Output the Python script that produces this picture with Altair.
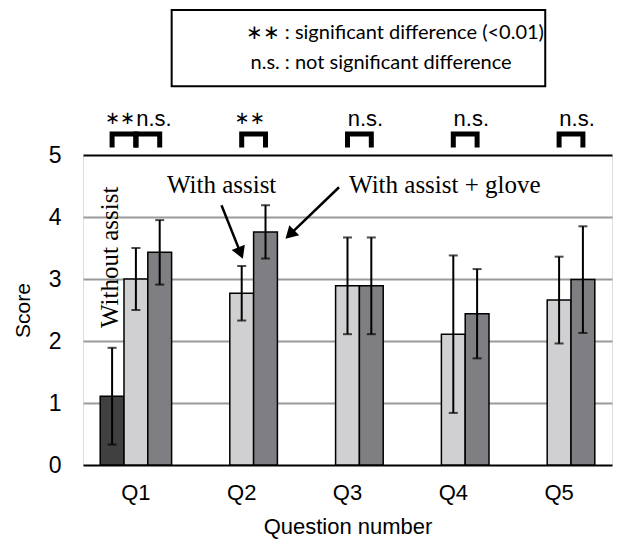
import altair as alt
import pandas as pd

questions = ["Q1", "Q2", "Q3", "Q4", "Q5"]
conditions = ["Without assist", "With assist", "With assist + glove"]
colors = ["#404040", "#d0d0d2", "#7f7f83"]

without_mean = [1.11, None, None, None, None]
without_err = [0.78, None, None, None, None]
assist_mean = [3.00, 2.77, 2.89, 2.11, 2.66]
assist_err = [0.50, 0.44, 0.78, 1.27, 0.70]
glove_mean = [3.43, 3.76, 2.89, 2.44, 2.99]
glove_err = [0.52, 0.43, 0.78, 0.72, 0.86]

# significance brackets: question, left condition, right condition, label
br_question = ["Q1", "Q1", "Q2", "Q3", "Q4", "Q5"]
br_left = ["Without assist", "With assist", "With assist", "With assist", "With assist", "With assist"]
br_right = ["With assist", "With assist + glove", "With assist + glove", "With assist + glove",
            "With assist + glove", "With assist + glove"]
br_label = ["∗∗", "n.s.", "∗∗", "n.s.", "n.s.", "n.s."]
br_low, br_high, br_text = 5.12, 5.34, 5.58

legend_symbols = ["∗∗", "n.s."]
legend_texts = [": significant difference (<0.01)", ": not significant difference"]

# ---- tables ----
rows = []
for means, errs, cond in [(without_mean, without_err, conditions[0]),
                          (assist_mean, assist_err, conditions[1]),
                          (glove_mean, glove_err, conditions[2])]:
    for q, m, e in zip(questions, means, errs):
        if m is not None:
            rows.append({"q": q, "cond": cond, "mean": m, "lo": m - e, "hi": m + e})
bars_df = pd.DataFrame(rows)

br_rows = []
lab_rows = []
for i, (q, a, b, lab) in enumerate(zip(br_question, br_left, br_right, br_label)):
    for o, (c, yv) in enumerate([(a, br_low), (a, br_high), (b, br_high), (b, br_low)]):
        br_rows.append({"id": i, "q": q, "cond": c, "y": yv, "o": o})
    lab_rows.append({"q": q, "cond": a, "label": lab, "y": br_text})
br_df = pd.DataFrame(br_rows)
lab_df = pd.DataFrame(lab_rows)

FONT = "Liberation Sans"
SERIF = "Liberation Serif"
LEGFONT = "Lato"

xs = alt.X("q:N", sort=questions,
           scale=alt.Scale(paddingInner=0.325, paddingOuter=0.1625),
           axis=alt.Axis(title="Question number", labelAngle=0, ticks=False, domain=False,
                         labelFont=FONT, labelFontSize=22, labelColor="black", labelPadding=17,
                         titleFont=FONT, titleFontSize=22, titleFontWeight="normal",
                         titleColor="black", titlePadding=13))
xo = alt.XOffset("cond:N", sort=conditions, scale=alt.Scale(domain=conditions, paddingInner=0, paddingOuter=0))
yscale = alt.Scale(domain=[0, 5], nice=False, zero=True)

bars = alt.Chart(bars_df).mark_bar(stroke="black", strokeWidth=1.5).encode(
    x=xs, xOffset=xo,
    y=alt.Y("mean:Q", scale=yscale,
            axis=alt.Axis(values=[0, 1, 2, 3, 4, 5], format="d", title="Score", ticks=False, domain=False,
                          labelFont=FONT, labelFontSize=23, labelColor="black", labelPadding=22,
                          titleFont=FONT, titleFontSize=21, titleFontWeight="normal",
                          titleColor="black", titlePadding=15,
                          grid=True, gridWidth=2,
                          gridColor=alt.condition("datum.value == 0 || datum.value == 5",
                                                  alt.value("black"), alt.value("#9a9a9a")))),
    color=alt.Color("cond:N", scale=alt.Scale(domain=conditions, range=colors), legend=None),
)

err = alt.Chart(bars_df).mark_rule(color="black", strokeWidth=2).encode(
    x=xs, xOffset=xo, y=alt.Y("lo:Q", scale=yscale), y2="hi:Q")
cap_lo = alt.Chart(bars_df).mark_tick(color="black", thickness=2, size=9, orient="horizontal").encode(
    x=xs, xOffset=xo, y=alt.Y("lo:Q", scale=yscale))
cap_hi = alt.Chart(bars_df).mark_tick(color="black", thickness=2, size=9, orient="horizontal").encode(
    x=xs, xOffset=xo, y=alt.Y("hi:Q", scale=yscale))

brackets = alt.Chart(br_df).mark_line(color="black", strokeWidth=5, strokeJoin="miter", strokeCap="butt").encode(
    x=xs, xOffset=xo, y=alt.Y("y:Q", scale=yscale), detail="id:N", order="o:Q")
br_star = alt.Chart(lab_df).transform_filter("datum.label != 'n.s.'").mark_text(
    font="DejaVu Sans", fontSize=18, color="black", dx=8, baseline="middle").encode(
    x=xs, xOffset=xo, y=alt.Y("y:Q", scale=yscale), text="label:N")
br_ns = alt.Chart(lab_df).transform_filter("datum.label == 'n.s.'").mark_text(
    font=FONT, fontSize=22, color="black", dx=18, baseline="middle").encode(
    x=xs, xOffset=xo, y=alt.Y("y:Q", scale=yscale), text="label:N")

inner = alt.layer(bars, err, cap_lo, cap_hi, brackets, br_star, br_ns)

# ---- annotations (x in category units: 0 .. 5 across the plot) ----
ann_x = alt.Scale(domain=[0, 5], nice=False, zero=False)

txt_df = pd.DataFrame({
    "x": [0.254, 1.31, 3.42],
    "y": [3.35, 4.52, 4.52],
    "t": ["Without assist", "With assist", "With assist + glove"],
    "a": [270, 0, 0],
})
ann_text = alt.Chart(txt_df).mark_text(font=SERIF, fontSize=25, color="black", baseline="middle").encode(
    x=alt.X("x:Q", scale=ann_x, axis=None), y=alt.Y("y:Q", scale=yscale),
    text="t:N", angle=alt.Angle("a:Q", scale=None))

arrow_df = pd.DataFrame({
    "id": [0, 0, 1, 1],
    "x": [1.309, 1.482, 2.42, 1.969],
    "y": [4.19, 3.45, 4.48, 3.74],
    "o": [0, 1, 0, 1],
})
arrow_lines = alt.Chart(arrow_df).mark_line(color="black", strokeWidth=2.5).encode(
    x=alt.X("x:Q", scale=ann_x, axis=None), y=alt.Y("y:Q", scale=yscale), detail="id:N", order="o:Q")
head_df = pd.DataFrame({"x": [1.482, 1.969], "y": [3.45, 3.74], "ang": [158, 226]})
arrow_heads = alt.Chart(head_df).mark_point(shape="triangle", filled=True, color="black", size=200, opacity=1).encode(
    x=alt.X("x:Q", scale=ann_x, axis=None), y=alt.Y("y:Q", scale=yscale),
    angle=alt.Angle("ang:Q", scale=None))

box_df = pd.DataFrame({"x": [0.838], "x2": [4.369], "y": [7.34], "y2": [6.11]})
legend_box = alt.Chart(box_df).mark_rect(fill="white", stroke="black", strokeWidth=2).encode(
    x=alt.X("x:Q", scale=ann_x, axis=None), x2="x2:Q", y=alt.Y("y:Q", scale=yscale), y2="y2:Q")
leg_df = pd.DataFrame({"x": [1.86, 1.86], "y": [6.96, 6.49], "s": legend_symbols, "t": legend_texts})
leg_sym = alt.Chart(leg_df).mark_text(font=LEGFONT, fontSize=20, color="black", align="right", baseline="middle").encode(
    x=alt.X("x:Q", scale=ann_x, axis=None), y=alt.Y("y:Q", scale=yscale), text="s:N")
leg_txt = alt.Chart(leg_df).mark_text(font=LEGFONT, fontSize=20, color="black", align="left", baseline="middle", dx=5).encode(
    x=alt.X("x:Q", scale=ann_x, axis=None), y=alt.Y("y:Q", scale=yscale), text="t:N")

ann = alt.layer(ann_text, arrow_lines, arrow_heads, legend_box, leg_sym, leg_txt)

chart = alt.layer(inner, ann).resolve_scale(x="independent").properties(
    width=529, height=310,
    autosize=alt.AutoSizeParams(type="none"),
    padding={"left": 75, "top": 147, "right": 2, "bottom": 74},
).configure_view(stroke="black", strokeWidth=2).configure(background="white")

chart.save("out.html", embed_options={"renderer": "svg", "actions": False})
